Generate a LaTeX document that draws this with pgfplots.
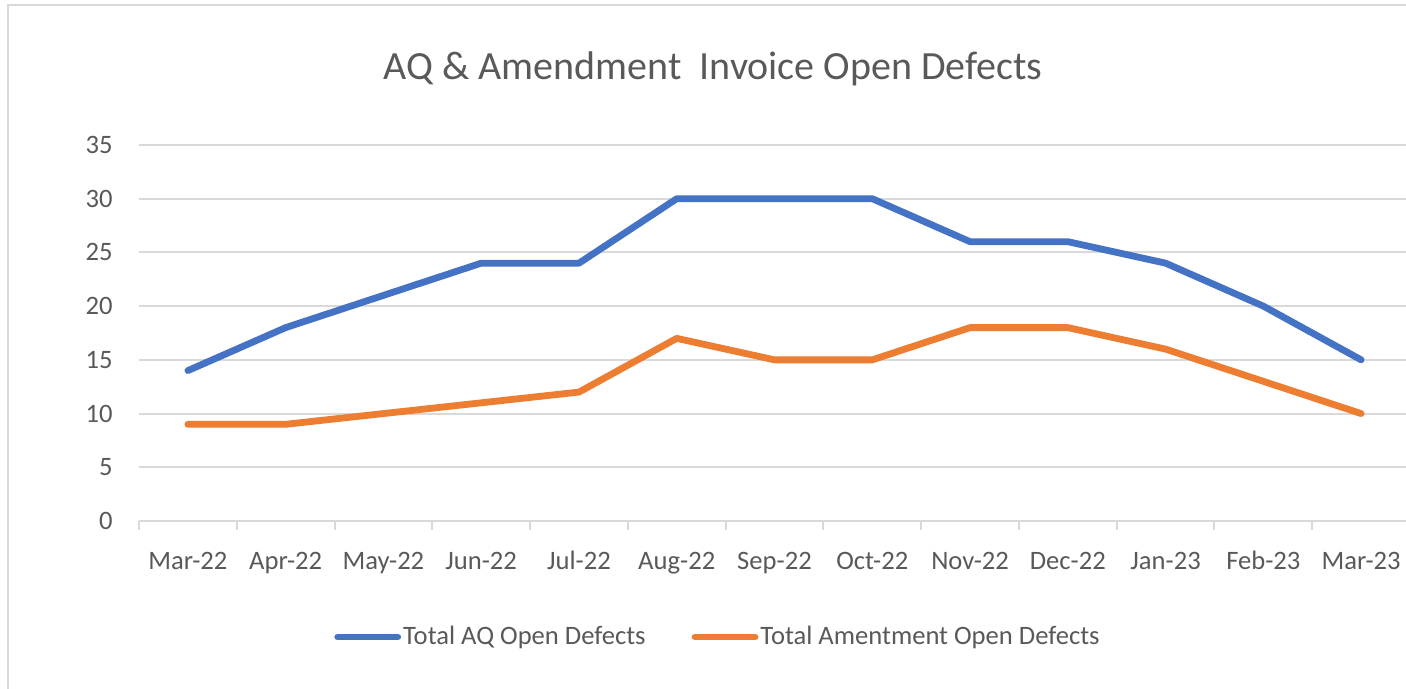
\documentclass[border=0pt]{standalone}
\usepackage{pgfplots}
\pgfplotsset{compat=1.18}
\usepackage{fontspec}
\setmainfont{Carlito}
\definecolor{txt}{HTML}{595959}
\definecolor{grd}{HTML}{D9D9D9}
\definecolor{aqblue}{HTML}{4472C4}
\definecolor{amorange}{HTML}{ED7D31}
\begin{document}
\begin{tikzpicture}[x=0.5pt,y=0.5pt]
\useasboundingbox (0,0) rectangle (1406,689);
\draw[grd, line width=1.2pt] (8,-10) -- (8,684) -- (1420,684);
\node[text=txt, font=\fontsize{20}{24}\selectfont] at (713,620) {AQ \& Amendment\ \ Invoice Open Defects};
\begin{axis}[
  at={(69.5pt,84pt)}, anchor=south west,
  scale only axis, width=635.5pt, height=188pt,
  xmin=-0.5, xmax=12.5, ymin=0, ymax=35,
  ytick={0,5,...,35},
  xtick={0,...,12},
  xticklabels={Mar-22,Apr-22,May-22,Jun-22,Jul-22,Aug-22,Sep-22,Oct-22,Nov-22,Dec-22,Jan-23,Feb-23,Mar-23},
  minor xtick={-0.5,0.5,...,12.5},
  axis x line*=bottom, axis y line*=left,
  y axis line style={draw=none},
  x axis line style={grd, line width=1pt, -},
  major tick length=0pt,
  minor tick length=4.5pt,
  tick align=outside,
  minor tick style={grd, line width=1pt},
  major tick style={draw=none},
  ymajorgrids, grid style={grd, line width=1pt},
  /pgf/number format/assume math mode=true,
  tick label style={font=\fontsize{13.3}{16}\selectfont, text=txt},
  yticklabel style={inner sep=0pt, anchor=east, xshift=-13pt},
  xticklabel style={inner sep=0pt, anchor=base, yshift=-24.5pt},
  clip=false,
  legend columns=2,
  legend style={at={(0.4555,-0.3085)}, anchor=center, draw=none, fill=none,
    font=\fontsize{13.3}{16}\selectfont, text=txt,
    /tikz/every even column/.append style={column sep=22pt},
    inner sep=0pt, nodes={inner sep=1pt}},
  legend image code/.code={\draw[#1, line cap=round] (0pt,0pt) -- (30pt,0pt);},
]
\addplot[aqblue, line width=3.4pt, line cap=round, line join=round] coordinates {
(0,14) (1,18) (2,21) (3,24) (4,24) (5,30) (6,30) (7,30) (8,26) (9,26) (10,24) (11,20) (12,15)};
\addlegendentry{Total AQ Open Defects}
\addplot[amorange, line width=3.4pt, line cap=round, line join=round] coordinates {
(0,9) (1,9) (2,10) (3,11) (4,12) (5,17) (6,15) (7,15) (8,18) (9,18) (10,16) (11,13) (12,10)};
\addlegendentry{Total Amentment Open Defects}
\end{axis}
\end{tikzpicture}
\end{document}
